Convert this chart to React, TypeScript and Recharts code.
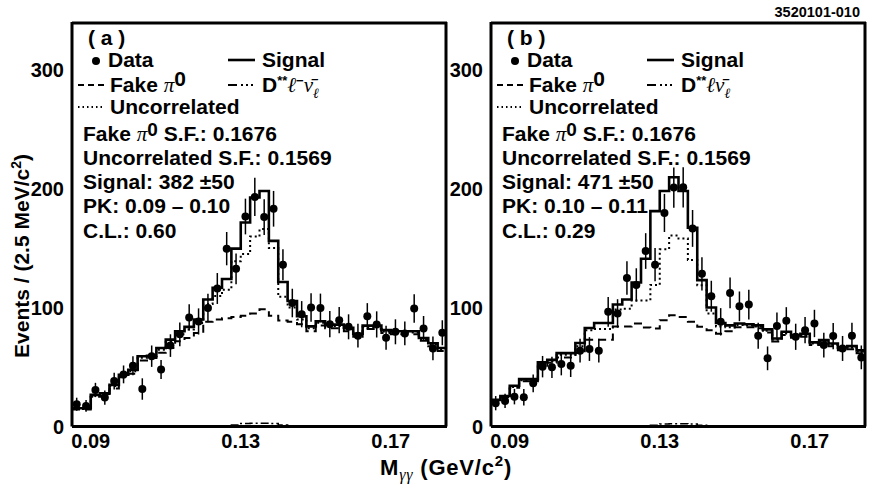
import React from 'react'
import { ComposedChart, Line, Scatter, ErrorBar, XAxis, YAxis } from 'recharts'

// 40 bins of 2.5 MeV from 0.085 to 0.185 GeV
const BIN_LO = 0.085
const BIN_W = 0.0025
const X_DOMAIN = [0.085, 0.185]
const Y_DOMAIN = [0, 340]

const xLabelTicks = [0.09, 0.13, 0.17]
const xMinorTicks = [0.09, 0.095, 0.1, 0.105, 0.11, 0.115, 0.12, 0.125, 0.13, 0.135, 0.14, 0.145, 0.15, 0.155, 0.16, 0.165, 0.17, 0.175, 0.18]
const yLabelTicks = [0, 100, 200, 300]
const yMajorTicks = [100, 200, 300]
const yMinorTicks = [20, 40, 60, 80, 100, 120, 140, 160, 180, 200, 220, 240, 260, 280, 300, 320]

// panel (a)
const aData = [18.7, 17.3, 30.7, 24.3, 38.2, 43.8, 51, 31.5, 59.1, 48, 68, 77.5, 91.7, 88.3, 99.6, 116, 149.5, 132.5, 176.5, 193, 176, 183, 136, 103.8, 94.4, 100, 99.7, 86, 89.4, 83.8, 76.3, 92.7, 85.8, 74.6, 79.6, 78.2, 99.2, 82.4, 65.6, 78.8]
const aErr = [5.5, 5, 6, 6, 7, 7.5, 8, 9, 9, 8, 9.5, 10, 11, 11, 12, 13, 14, 13, 15, 16, 15, 15, 13, 12, 11, 12, 12, 11, 11, 10.5, 10, 11, 11, 10, 10.5, 10, 12, 10.5, 10, 10.5]
const aSignal = [15.3, 15.3, 26.6, 28, 35, 43.5, 47.7, 59, 59.5, 66, 73, 80, 83.7, 90, 106.8, 116.6, 124, 149.5, 171.5, 192.5, 198, 156, 121.4, 105.5, 92.7, 84.2, 88.5, 85.6, 85.6, 83, 78, 84.8, 84.8, 81, 80, 80, 80, 74.4, 70, 66]
const aUncorr = [14.8, 14.8, 26, 27.3, 34, 42.5, 46.5, 57.8, 58.3, 64.5, 71, 77.5, 81.5, 87, 103, 109.6, 115, 139, 145, 159.6, 166, 150, 109, 100, 90, 82.5, 87.2, 84.4, 84.4, 81.8, 77, 83.6, 83.6, 79.9, 79, 79, 79, 73.4, 69, 65]
const aFake = [14.2, 14.2, 25, 25.7, 32, 41.5, 44.3, 55.5, 57.5, 62, 66, 71.6, 74.4, 78.6, 88, 90, 91, 92, 93, 95, 98.5, 93, 89, 88, 86, 80, 85, 82.5, 82.5, 80, 75.5, 82, 82, 78.5, 77.5, 77.5, 77.5, 72, 67.5, 63.5]
const aDss = [0, 0, 0, 0, 0, 0, 0, 0, 0, 0, 0, 0, 0, 0, 0, 0, 0.5, 1.2, 2.5, 2.8, 2.8, 2.5, 1.2, 0.5, 0, 0, 0, 0, 0, 0, 0, 0, 0, 0, 0, 0, 0, 0, 0, 0]

// panel (b)
const bData = [19.6, 21.5, 25.1, 24.6, 36.3, 50.3, 49.7, 52.5, 51.1, 63.7, 65.1, 63.7, 96.4, 95, 124.8, 119, 147.5, 136, 179.5, 200.8, 201, 166.5, 128.3, 109.5, 88, 112.3, 101, 102.5, 76.3, 57.3, 84.4, 88.8, 75.4, 81, 86.6, 68.4, 76, 65.6, 76.3, 58.1]
const bErr = [6, 6, 6.5, 7, 7.5, 9, 9, 9.5, 9.5, 10, 10, 10, 12.5, 12, 14, 14, 15, 14, 16, 17, 17, 15.5, 14, 13, 11.5, 13, 12.5, 12.5, 11, 10, 11.5, 11.5, 11, 11, 11.5, 10.5, 11, 10.5, 11, 10]
const bSignal = [22.4, 25.7, 34.2, 39.8, 39.8, 54, 56, 61.7, 61.7, 70.2, 82.8, 87, 87, 102.5, 106.8, 121, 141, 181, 198, 209.5, 198, 167, 123, 100, 87, 85, 86.6, 86, 85, 81.6, 74, 79.6, 76.8, 78, 70.7, 72.6, 69.8, 66.5, 67.6, 64]
const bUncorr = [21.5, 24.8, 33.2, 38.8, 38.8, 52.5, 54.8, 60.3, 60.3, 67.4, 80.9, 82, 82, 98.3, 99, 106, 106, 119, 149, 160.6, 158, 140, 118.7, 95, 84, 83.5, 85.4, 85, 84, 80.5, 73, 78.6, 75.8, 77, 69.8, 71.6, 68.8, 65.5, 66.6, 63]
const bFake = [21, 24.2, 32.5, 38, 38, 51, 53.5, 58, 58, 62, 73, 73, 73, 84, 84, 86.6, 83.2, 82.4, 89.4, 93.6, 92, 88, 83.8, 81, 78, 80, 83.5, 83.5, 82.5, 79, 71.5, 77, 74.5, 75.5, 68.5, 70, 67.5, 64, 65, 61.5]
const bDss = [0, 0, 0, 0, 0, 0, 0, 0, 0, 0, 0, 0, 0, 0, 0, 0, 0, 1, 2, 2.4, 2.4, 2, 1, 0, 0, 0, 0, 0, 0, 0, 0, 0, 0, 0, 0, 0, 0, 0, 0, 0]

const INK = '#000'
const SANS = '"Liberation Sans", Arial, Helvetica, sans-serif'
const SERIF = '"Liberation Serif", "DejaVu Serif", serif'
const frameLine = { stroke: INK, strokeWidth: 3 }
const tickMark = { stroke: INK, strokeWidth: 1.5 }
const labelFont = { fill: INK, fontSize: 20, fontWeight: 700, fontFamily: SANS }

// histogram rows at lower bin edges, plus a closing row at the upper edge
function stepRows(sig: number[], unc: number[], fake: number[], dss: number[]) {
  const rows = sig.map((s, i) => ({ m: BIN_LO + i * BIN_W, sig: s, unc: unc[i], fake: fake[i], dss: dss[i] }))
  const n = sig.length - 1
  rows.push({ m: BIN_LO + sig.length * BIN_W, sig: sig[n], unc: unc[n], fake: fake[n], dss: dss[n] })
  return rows
}

function pointRows(vals: number[], errs: number[]) {
  return vals.map((v, i) => ({ m: BIN_LO + (i + 0.5) * BIN_W, y: v, err: errs[i] }))
}

const Dot = (props: any) => <circle cx={props.cx} cy={props.cy} r={4} fill={INK} />

// inward tick marks: mirrored axes (1px thick so that they are drawn)
function tickX(id: string, orientation: 'top' | 'bottom', ticks: number[], size: number, line: boolean) {
  return (
    <XAxis key={id} xAxisId={id} orientation={orientation} mirror type="number" dataKey="m"
      domain={X_DOMAIN} allowDataOverflow ticks={ticks} interval={0} tick={false}
      tickSize={size} height={1} tickLine={tickMark} axisLine={line ? frameLine : false} />
  )
}

function tickY(id: string, orientation: 'left' | 'right', ticks: number[], size: number, line: boolean) {
  return (
    <YAxis key={id} yAxisId={id} orientation={orientation} mirror type="number"
      domain={Y_DOMAIN} allowDataOverflow ticks={ticks} interval={0} tick={false}
      tickSize={size} width={1} tickLine={tickMark} axisLine={line ? frameLine : false} />
  )
}

function Panel({ left, data, err, sig, unc, fake, dss }: any) {
  const rows = stepRows(sig, unc, fake, dss)
  const points = pointRows(data, err)
  return (
    <div style={{ position: 'absolute', left, top: 0 }}>
      <ComposedChart width={460} height={490} data={rows} margin={{ top: 22, right: 13, bottom: 33.5, left: 0 }}>
        <XAxis dataKey="m" type="number" domain={X_DOMAIN} allowDataOverflow ticks={xLabelTicks} interval={0}
          tickFormatter={(v: number) => v.toFixed(2)} tickLine={false} tickSize={5} tickMargin={2}
          axisLine={frameLine} tick={labelFont} height={30} />
        <YAxis type="number" domain={Y_DOMAIN} allowDataOverflow ticks={yLabelTicks} interval={0}
          tickLine={false} tickSize={6} tickMargin={2} axisLine={frameLine} tick={labelFont} width={72} />
        {tickX('tMinor', 'top', xMinorTicks, 6, true)}
        {tickX('tMajor', 'top', xLabelTicks, 12, false)}
        {tickX('bMinor', 'bottom', xMinorTicks, 6, false)}
        {tickX('bMajor', 'bottom', xLabelTicks, 12, false)}
        {tickY('rMinor', 'right', yMinorTicks, 6, true)}
        {tickY('rMajor', 'right', yMajorTicks, 12, false)}
        {tickY('lMinor', 'left', yMinorTicks, 6, false)}
        {tickY('lMajor', 'left', yMajorTicks, 12, false)}

        <Line type="stepAfter" dataKey="fake" stroke={INK} strokeWidth={2} strokeDasharray="8 5" dot={false} isAnimationActive={false} />
        <Line type="stepAfter" dataKey="unc" stroke={INK} strokeWidth={2} strokeDasharray="2 3" dot={false} isAnimationActive={false} />
        <Line type="stepAfter" dataKey="dss" stroke={INK} strokeWidth={1.5} strokeDasharray="8 3 2 3" dot={false} isAnimationActive={false} />
        <Line type="stepAfter" dataKey="sig" stroke={INK} strokeWidth={2.6} dot={false} isAnimationActive={false} />
        <Scatter data={points} dataKey="y" shape={Dot} isAnimationActive={false}>
          <ErrorBar dataKey="err" direction="y" width={0} stroke={INK} strokeWidth={1.5} isAnimationActive={false} />
        </Scatter>
      </ComposedChart>
    </div>
  )
}

const T = { fontFamily: SANS, fontWeight: 700, fontSize: 21, fill: INK }

function PanelText({ dx, tag, minus, signal, pk, cl }: any) {
  return (
    <g transform={`translate(${dx},0)`} style={T as any}>
      <text x={88} y={45}>( {tag} )</text>
      <circle cx={96} cy={61} r={4} fill={INK} />
      <text x={108} y={67}>Data</text>
      <line x1={228} x2={255} y1={60} y2={60} stroke={INK} strokeWidth={2.6} />
      <text x={262} y={67}>Signal</text>
      <line x1={78} x2={107} y1={85} y2={85} stroke={INK} strokeWidth={2} strokeDasharray="6 4" />
      <text x={110} y={92}>
        Fake <tspan fontFamily={SERIF} fontStyle="italic" fontWeight={400}>π</tspan>
        <tspan dy={-6}>0</tspan>
      </text>
      <line x1={228} x2={253} y1={85} y2={85} stroke={INK} strokeWidth={2} strokeDasharray="9 4 2 3 2 3" />
      <text x={262} y={92}>
        D<tspan dy={-7} fontSize={13}>**</tspan>
        <tspan dy={7} fontFamily={SERIF} fontStyle="italic" fontWeight={400}>ℓ</tspan>
        {minus ? <tspan dy={-7} fontSize={13}>−</tspan> : null}
        <tspan dy={minus ? 7 : 0} fontFamily={SERIF} fontStyle="italic" fontWeight={400}>ν̄</tspan>
        <tspan dy={6} fontSize={14} fontFamily={SERIF} fontStyle="italic" fontWeight={400}>ℓ</tspan>
      </text>
      <line x1={78} x2={105} y1={107} y2={107} stroke={INK} strokeWidth={2} strokeDasharray="1.5 3" />
      <text x={110} y={114}>Uncorrelated</text>
      <text x={83} y={141}>
        Fake <tspan fontFamily={SERIF} fontStyle="italic" fontWeight={400}>π</tspan>
        <tspan dy={-5} fontSize={19}>0</tspan>
        <tspan dy={5}> S.F.: 0.1676</tspan>
      </text>
      <text x={83} y={165}>Uncorrelated S.F.: 0.1569</text>
      <text x={83} y={189}>Signal: {signal} ±50</text>
      <text x={83} y={213}>PK: {pk}</text>
      <text x={83} y={238}>C.L.: {cl}</text>
    </g>
  )
}

export default function App() {
  return (
    <div style={{ position: 'absolute', left: 0, top: 0, width: 881, height: 490, background: '#fff', overflow: 'hidden' }}>
      <Panel left={0} data={aData} err={aErr} sig={aSignal} unc={aUncorr} fake={aFake} dss={aDss} />
      <Panel left={419} data={bData} err={bErr} sig={bSignal} unc={bUncorr} fake={bFake} dss={bDss} />
      <svg width={881} height={490} style={{ position: 'absolute', left: 0, top: 0, pointerEvents: 'none' }}>
        <text x={860} y={17} textAnchor="end" style={{ fontFamily: SANS, fontWeight: 700, fontSize: 14.5, fill: INK }}>3520101-010</text>
        <PanelText dx={0} tag="a" minus signal="382" pk="0.09 – 0.10" cl="0.60" />
        <PanelText dx={419} tag="b" minus={false} signal="471" pk="0.10 – 0.11" cl="0.29" />
        <text transform="translate(29,256) rotate(-90)" textAnchor="middle" style={T as any}>
          Events / (2.5 MeV/c<tspan dy={-8} fontSize={14}>2</tspan><tspan dy={8}>)</tspan>
        </text>
        <text x={380} y={475} style={{ ...T, fontSize: 22, letterSpacing: 0.8 } as any}>
          M<tspan dy={5} fontSize={16} fontFamily={SERIF} fontStyle="italic" fontWeight={400}>γγ</tspan>
          <tspan dy={-5}> (GeV/c</tspan><tspan dy={-9} fontSize={15}>2</tspan><tspan dy={9}>)</tspan>
        </text>
      </svg>
    </div>
  )
}
